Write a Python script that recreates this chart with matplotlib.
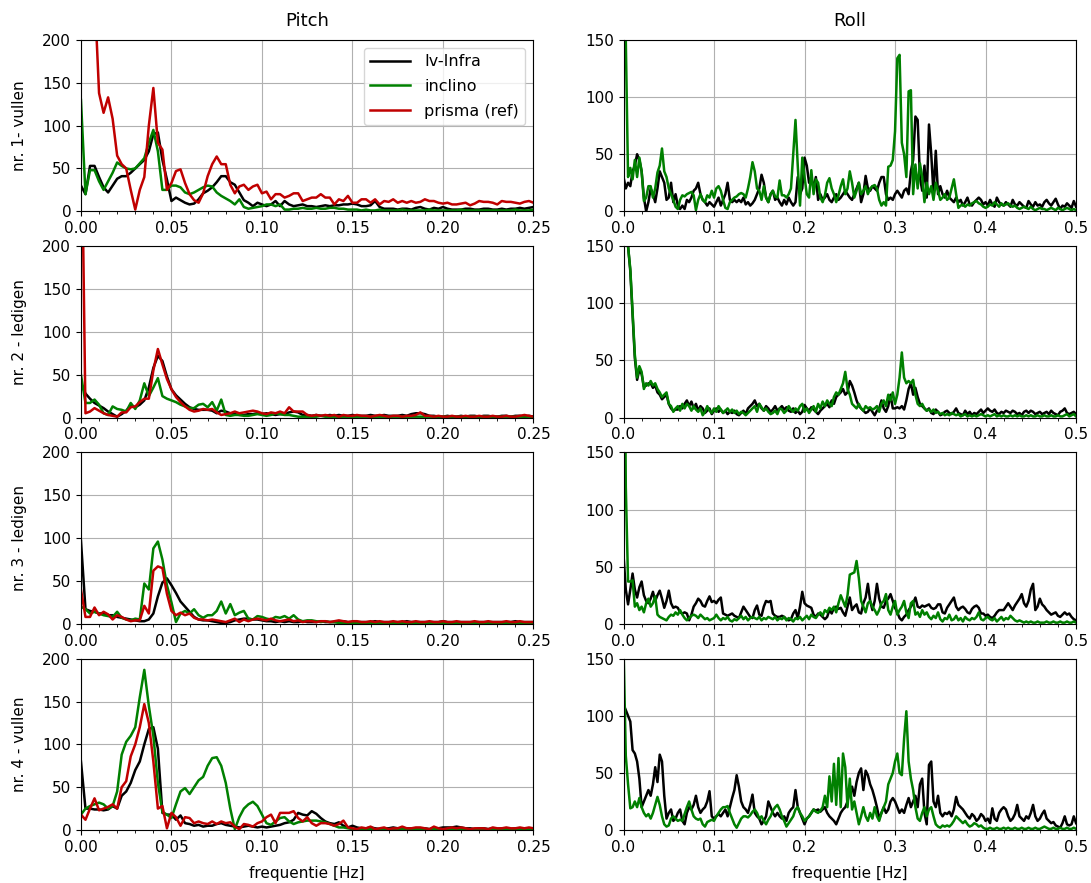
import numpy as np
import matplotlib
matplotlib.use("Agg")
import matplotlib.pyplot as plt
from matplotlib.ticker import AutoMinorLocator

# ---------------- data ----------------
df = 0.0025
freq_pitch = np.arange(101) * df   # 0 .. 0.25 Hz
freq_roll = np.arange(201) * df    # 0 .. 0.50 Hz

series_names = ["Iv-Infra", "inclino", "prisma (ref)"]
row_labels = ["nr. 1- vullen", "nr. 2 - ledigen", "nr. 3 - ledigen", "nr. 4 - vullen"]

# ---- Pitch, row 1 ----
p1_ivinfra = [30, 20, 53, 53, 40, 28, 22, 30, 38, 41,
              41, 45, 50, 55, 60, 70, 90, 92, 60, 37,
              12, 16, 13, 10, 8, 9, 14, 21, 24, 28,
              34, 41, 41, 34, 31, 22, 13, 10, 6, 10,
              8, 6, 8, 12, 6, 12, 8, 6, 7, 8,
              6, 6, 5, 6, 7, 6, 7, 7, 8, 8,
              9, 8, 6, 6, 7, 12, 5, 3, 3, 3,
              2, 3, 3, 2, 4, 5, 3, 2, 4, 3,
              5, 3, 2, 2, 2, 3, 3, 2, 2, 3,
              3, 2, 2, 3, 2, 3, 3, 4, 3, 4, 5]
p1_inclino = [130, 20, 48, 48, 35, 25, 35, 45, 57, 53,
              50, 49, 50, 56, 62, 80, 95, 70, 25, 25,
              30, 30, 28, 22, 20, 22, 25, 28, 30, 29,
              22, 18, 15, 12, 8, 14, 5, 3, 4, 5,
              6, 8, 8, 6, 8, 2, 2, 3, 3, 4,
              3, 3, 4, 3, 3, 4, 4, 3, 3, 2,
              2, 2, 1, 2, 1, 1, 2, 1, 1, 1,
              1, 2, 1, 1, 1, 1, 1, 2, 1, 1,
              1, 1, 1, 1, 2, 1, 1, 1, 1, 1,
              1, 1, 1, 1, 1, 1, 2, 1, 1, 1, 2]
p1_prisma = [600, 500, 400, 257, 138, 115, 133, 108, 65, 55,
             50, 25, 2, 25, 40, 100, 144, 80, 72, 25,
             33, 47, 49, 33, 20, 13, 10, 21, 41, 55,
             64, 55, 55, 31, 21, 29, 31, 25, 29, 31,
             21, 23, 14, 20, 20, 16, 18, 21, 21, 12,
             14, 16, 16, 20, 16, 16, 8, 14, 12, 18,
             10, 10, 14, 14, 10, 14, 8, 12, 11, 14,
             10, 12, 10, 12, 10, 11, 14, 12, 12, 10,
             9, 10, 8, 8, 9, 10, 7, 9, 12, 11,
             11, 10, 8, 12, 11, 11, 10, 9, 11, 12, 10]

# ---- Pitch, row 2 ----
p2_ivinfra = [40, 28, 22, 17, 14, 11, 7, 4, 1, 4,
              8, 14, 12, 15, 20, 35, 58, 72, 66, 48,
              33, 26, 21, 16, 12, 10, 9, 9, 9, 8,
              5, 8, 7, 5, 4, 3, 3, 4, 4, 5,
              4, 5, 4, 3, 4, 4, 6, 7, 6, 3,
              3, 2, 3, 2, 2, 3, 2, 3, 2, 2,
              3, 2, 2, 2, 3, 2, 2, 3, 2, 2,
              2, 3, 2, 4, 5, 5, 4, 2, 2, 1,
              1, 2, 1, 1, 2, 1, 2, 2, 1, 2,
              2, 1, 1, 2, 2, 1, 2, 2, 1, 2, 1]
p2_inclino = [50, 17, 17, 21, 15, 5, 3, 13, 10, 9,
              7, 17, 10, 20, 40, 25, 35, 46, 25, 22,
              20, 18, 15, 13, 11, 11, 15, 16, 12, 18,
              8, 21, 3, 2, 3, 3, 2, 2, 3, 4,
              3, 2, 3, 5, 4, 3, 3, 2, 1, 1,
              1, 1, 1, 2, 1, 1, 1, 1, 1, 1,
              1, 1, 1, 1, 1, 1, 1, 1, 1, 1,
              1, 1, 1, 1, 1, 1, 1, 1, 1, 1,
              1, 1, 1, 1, 1, 1, 1, 1, 1, 1,
              1, 1, 1, 1, 1, 1, 1, 1, 1, 1, 1]
p2_prisma = [400, 5, 7, 11, 8, 5, 3, 2, 1, 6,
             6, 12, 13, 18, 22, 22, 55, 80, 62, 45,
             33, 24, 18, 13, 9, 7, 8, 10, 9, 10,
             6, 3, 4, 5, 7, 5, 6, 7, 8, 7,
             5, 4, 6, 5, 7, 5, 12, 7, 7, 7,
             3, 2, 3, 2, 3, 2, 3, 1, 3, 2,
             2, 3, 2, 2, 1, 2, 3, 2, 1, 2,
             2, 1, 2, 2, 3, 6, 2, 2, 1, 2,
             1, 1, 2, 1, 1, 2, 1, 1, 2, 1,
             1, 2, 1, 1, 2, 1, 1, 2, 3, 2, 1]

# ---- Pitch, row 3 ----
p3_ivinfra = [97, 17, 15, 14, 12, 12, 10, 10, 8, 7,
              6, 5, 4, 3, 3, 5, 12, 32, 48, 53,
              45, 36, 26, 20, 14, 8, 5, 4, 4, 3,
              2, 1, 1, 2, 4, 5, 6, 6, 5, 5,
              4, 3, 3, 2, 3, 2, 3, 2, 2, 3,
              2, 2, 2, 3, 2, 2, 2, 2, 3, 2,
              2, 2, 2, 2, 2, 3, 2, 2, 2, 2,
              2, 2, 3, 2, 2, 2, 2, 2, 2, 2,
              3, 2, 2, 2, 2, 2, 2, 2, 2, 2,
              2, 2, 2, 2, 2, 2, 3, 2, 2, 2, 2]
p3_inclino = [20, 17, 12, 14, 12, 10, 9, 8, 14, 7,
              5, 4, 6, 5, 47, 40, 88, 96, 75, 45,
              25, 2, 12, 15, 12, 17, 10, 7, 10, 10,
              15, 26, 12, 23, 10, 13, 15, 6, 5, 9,
              8, 6, 5, 8, 7, 9, 6, 10, 5, 3,
              4, 4, 3, 2, 3, 2, 2, 1, 1, 1,
              1, 1, 1, 1, 1, 1, 1, 1, 1, 1,
              1, 1, 1, 1, 1, 1, 1, 1, 1, 1,
              1, 1, 1, 1, 1, 1, 1, 1, 1, 1,
              1, 1, 1, 1, 1, 1, 1, 1, 1, 1, 1]
p3_prisma = [40, 8, 8, 19, 10, 14, 11, 5, 10, 8,
             5, 3, 4, 4, 21, 12, 62, 67, 65, 35,
             15, 10, 13, 10, 12, 7, 5, 5, 4, 5,
             4, 3, 2, 4, 6, 2, 5, 3, 5, 6,
             5, 4, 6, 4, 3, 4, 5, 3, 4, 2,
             3, 3, 2, 3, 3, 2, 3, 4, 3, 2,
             3, 3, 2, 2, 3, 2, 3, 2, 2, 3,
             2, 3, 2, 2, 3, 2, 2, 3, 2, 2,
             3, 2, 2, 3, 2, 2, 2, 3, 2, 2,
             3, 2, 2, 2, 3, 2, 2, 3, 2, 2, 2]

# ---- Pitch, row 4 ----
p4_ivinfra = [80, 25, 25, 24, 24, 23, 24, 28, 25, 40,
              45, 55, 70, 80, 100, 118, 120, 95, 20, 18,
              18, 12, 17, 8, 7, 5, 6, 4, 5, 5,
              7, 8, 6, 5, 4, 3, 4, 5, 4, 3,
              4, 3, 4, 5, 6, 8, 9, 12, 20, 18,
              17, 22, 19, 14, 10, 8, 7, 9, 5, 3,
              5, 3, 2, 2, 3, 2, 1, 2, 2, 3,
              2, 1, 2, 2, 1, 2, 2, 1, 2, 2,
              3, 3, 3, 4, 3, 2, 2, 1, 2, 2,
              1, 2, 1, 2, 2, 1, 2, 1, 1, 2, 1]
p4_inclino = [18, 25, 28, 30, 32, 30, 25, 28, 45, 88,
              103, 110, 120, 155, 187, 145, 110, 55, 21, 18,
              14, 30, 45, 49, 42, 50, 58, 62, 75, 84,
              85, 75, 55, 25, 1, 15, 25, 30, 33, 28,
              18, 8, 6, 10, 14, 15, 10, 7, 9, 10,
              11, 11, 11, 10, 9, 7, 5, 3, 3, 2,
              1, 1, 1, 1, 1, 1, 1, 1, 1, 1,
              1, 1, 1, 1, 1, 1, 1, 1, 1, 1,
              1, 1, 1, 1, 1, 1, 1, 1, 1, 1,
              1, 1, 1, 1, 1, 1, 1, 1, 1, 1, 1]
p4_prisma = [18, 12, 25, 37, 23, 25, 27, 30, 25, 50,
             57, 86, 100, 120, 147, 125, 80, 25, 28, 2,
             20, 15, 5, 15, 14, 8, 10, 8, 7, 10,
             7, 10, 8, 9, 4, 1, 7, 6, 4, 8,
             10, 15, 18, 8, 20, 20, 20, 22, 14, 10,
             15, 8, 5, 8, 8, 7, 5, 7, 11, 3,
             2, 1, 3, 2, 4, 1, 2, 3, 1, 2,
             2, 4, 2, 2, 3, 3, 2, 1, 4, 2,
             1, 2, 3, 2, 3, 2, 1, 2, 2, 2,
             1, 3, 2, 2, 3, 2, 2, 3, 2, 3, 2]

# ---- Roll, row 1 ----
r1_ivinfra = [30, 20, 25, 22, 35, 40, 50, 45, 35, 12,
              0, 8, 20, 15, 8, 20, 35, 30, 25, 10,
              12, 25, 8, 15, 5, 2, 5, 2, 10, 8,
              12, 18, 20, 25, 15, 10, 8, 5, 8, 6,
              4, 8, 12, 5, 10, 15, 25, 10, 8, 10,
              8, 10, 8, 12, 6, 8, 5, 7, 10, 15,
              20, 32, 25, 12, 8, 15, 18, 10, 12, 8,
              5, 10, 6, 12, 8, 5, 8, 30, 15, 20,
              47, 40, 25, 30, 20, 30, 10, 15, 10, 12,
              15, 10, 8, 12, 15, 10, 12, 15, 18, 15,
              12, 10, 15, 20, 25, 8, 15, 31, 20, 18,
              22, 20, 18, 25, 30, 30, 15, 10, 12, 10,
              15, 18, 15, 12, 18, 20, 15, 35, 45, 83,
              80, 30, 18, 40, 12, 76, 50, 15, 53, 15,
              22, 15, 12, 18, 12, 10, 8, 12, 8, 10,
              5, 8, 12, 6, 5, 8, 10, 12, 10, 6,
              8, 5, 10, 6, 4, 12, 8, 6, 5, 8,
              6, 4, 10, 6, 5, 8, 6, 4, 3, 9,
              6, 4, 8, 5, 6, 4, 8, 10, 7, 5,
              8, 11, 6, 2, 5, 4, 7, 5, 3, 9, 4]
r1_inclino = [400, 150, 30, 38, 28, 45, 30, 47, 35, 9,
              12, 22, 22, 12, 20, 34, 40, 55, 35, 30,
              20, 15, 10, 4, 2, 10, 14, 13, 15, 16,
              17, 14, 1, 10, 15, 10, 8, 14, 12, 18,
              12, 20, 22, 18, 10, 3, 2, 8, 10, 12,
              13, 15, 16, 15, 12, 20, 30, 43, 35, 20,
              18, 10, 22, 12, 8, 15, 18, 13, 12, 27,
              14, 14, 12, 15, 20, 50, 80, 40, 5, 47,
              30, 15, 12, 36, 15, 28, 25, 12, 8, 14,
              25, 29, 20, 15, 8, 14, 22, 28, 15, 20,
              35, 25, 12, 18, 25, 15, 18, 22, 15, 20,
              22, 23, 20, 10, 5, 8, 5, 39, 40, 45,
              70, 134, 137, 60, 50, 30, 105, 106, 15, 41,
              20, 42, 30, 8, 25, 15, 22, 10, 25, 18,
              10, 12, 15, 10, 12, 20, 28, 15, 3, 5,
              6, 4, 6, 5, 7, 8, 9, 7, 6, 4,
              3, 4, 6, 5, 8, 6, 4, 7, 5, 6,
              7, 5, 4, 5, 3, 2, 3, 4, 3, 2,
              4, 2, 1, 2, 3, 2, 2, 1, 2, 3,
              2, 1, 3, 2, 1, 2, 3, 2, 1, 2, 1]

# ---- Roll, row 2 ----
r2_ivinfra = [300, 200, 150, 128, 90, 52, 33, 42, 38, 27,
              28, 30, 30, 26, 28, 22, 20, 16, 18, 20,
              12, 8, 6, 7, 7, 10, 8, 12, 15, 10,
              14, 8, 12, 6, 10, 8, 4, 6, 8, 3,
              6, 8, 5, 7, 4, 6, 3, 5, 4, 6,
              3, 2, 4, 6, 3, 8, 10, 12, 15, 10,
              12, 8, 6, 10, 8, 5, 7, 10, 6, 8,
              10, 7, 9, 6, 5, 8, 4, 6, 3, 5,
              11, 8, 6, 9, 7, 5, 3, 6, 8, 10,
              12, 9, 15, 12, 18, 20, 22, 25, 20, 22,
              32, 28, 22, 15, 10, 8, 6, 4, 5, 8,
              5, 2, 6, 8, 15, 8, 5, 10, 20, 8,
              8, 9, 8, 10, 7, 15, 25, 30, 20, 26,
              18, 12, 10, 8, 6, 8, 4, 3, 7, 5,
              2, 3, 5, 6, 4, 3, 5, 8, 4, 3,
              2, 6, 3, 5, 2, 4, 3, 5, 7, 4,
              6, 8, 6, 5, 7, 4, 3, 5, 4, 6,
              5, 4, 6, 5, 3, 4, 2, 5, 6, 4,
              6, 5, 3, 4, 5, 3, 4, 5, 3, 6,
              4, 3, 2, 5, 6, 8, 4, 3, 4, 5, 3]
r2_inclino = [300, 200, 150, 130, 93, 55, 35, 45, 40, 25,
              30, 28, 32, 28, 30, 25, 22, 18, 20, 22,
              12, 10, 5, 8, 10, 6, 12, 8, 12, 10,
              6, 10, 7, 5, 8, 2, 5, 10, 6, 4,
              8, 5, 10, 7, 4, 6, 8, 5, 7, 4,
              6, 3, 5, 4, 2, 4, 6, 8, 10, 5,
              12, 9, 6, 8, 5, 3, 4, 6, 3, 8,
              7, 4, 6, 10, 7, 5, 8, 6, 10, 12,
              5, 8, 4, 7, 10, 5, 12, 8, 14, 10,
              15, 12, 10, 18, 22, 20, 25, 30, 40, 25,
              20, 12, 10, 8, 12, 8, 6, 10, 8, 9,
              7, 8, 10, 5, 12, 15, 10, 20, 15, 22,
              12, 20, 35, 57, 35, 30, 32, 30, 33, 20,
              12, 10, 12, 8, 6, 7, 5, 7, 4, 5,
              3, 4, 2, 3, 2, 4, 3, 2, 3, 1,
              2, 3, 1, 2, 1, 2, 1, 2, 3, 2,
              1, 2, 1, 2, 3, 1, 2, 1, 2, 1,
              1, 2, 1, 2, 1, 2, 1, 1, 2, 1,
              2, 1, 1, 2, 1, 1, 2, 1, 1, 2,
              1, 1, 2, 1, 1, 2, 3, 1, 2, 3, 1]

# ---- Roll, row 3 ----
r3_ivinfra = [60, 30, 17, 30, 44, 30, 23, 32, 37, 25,
              20, 18, 22, 28, 20, 25, 29, 22, 14, 20,
              29, 18, 14, 15, 14, 10, 9, 10, 9, 3,
              8, 15, 18, 22, 20, 16, 15, 20, 24, 19,
              20, 18, 21, 23, 9, 8, 7, 8, 9, 7,
              6, 5, 10, 15, 12, 9, 6, 5, 12, 16,
              8, 7, 15, 20, 19, 20, 9, 7, 6, 6,
              7, 6, 4, 3, 4, 9, 12, 5, 15, 28,
              18, 16, 15, 14, 8, 6, 9, 8, 6, 4,
              6, 12, 9, 14, 15, 13, 14, 10, 7, 15,
              23, 12, 15, 17, 10, 9, 18, 23, 35, 20,
              12, 20, 35, 22, 15, 14, 20, 22, 26, 20,
              14, 10, 5, 3, 6, 8, 12, 15, 18, 23,
              15, 14, 16, 15, 16, 17, 14, 13, 14, 17,
              17, 10, 9, 14, 17, 20, 23, 15, 12, 14,
              15, 13, 10, 9, 13, 15, 16, 14, 9, 9,
              7, 8, 6, 5, 7, 10, 12, 12, 12, 15,
              18, 15, 12, 16, 19, 22, 26, 18, 15, 20,
              30, 35, 12, 15, 22, 17, 15, 12, 10, 8,
              9, 10, 7, 6, 8, 10, 8, 9, 6, 4, 3]
r3_inclino = [400, 120, 37, 37, 38, 15, 18, 12, 15, 10,
              18, 22, 15, 18, 24, 8, 6, 5, 4, 3,
              6, 8, 7, 10, 8, 12, 8, 5, 3, 5,
              7, 8, 7, 5, 8, 6, 4, 5, 3, 4,
              5, 8, 5, 3, 5, 4, 6, 3, 2, 4,
              3, 5, 7, 4, 6, 3, 5, 6, 5, 4,
              6, 3, 5, 4, 6, 5, 4, 6, 3, 5,
              4, 6, 3, 5, 4, 2, 5, 4, 6, 3,
              5, 7, 4, 8, 6, 5, 8, 10, 7, 12,
              10, 14, 12, 15, 10, 18, 25, 20, 15, 25,
              43, 44, 45, 55, 40, 20, 15, 10, 18, 20,
              15, 12, 8, 12, 18, 20, 26, 12, 8, 15,
              20, 8, 12, 15, 20, 10, 5, 18, 20, 8,
              10, 6, 12, 8, 10, 6, 4, 7, 5, 10,
              4, 2, 5, 4, 8, 3, 4, 7, 3, 5,
              2, 6, 4, 3, 5, 4, 6, 10, 4, 3,
              5, 6, 4, 3, 5, 2, 4, 6, 3, 5,
              4, 7, 5, 3, 2, 3, 2, 1, 2, 1,
              2, 1, 1, 2, 1, 1, 1, 2, 1, 1,
              2, 1, 1, 2, 1, 1, 2, 1, 1, 2, 1]

# ---- Roll, row 4 ----
r4_ivinfra = [110, 105, 100, 95, 70, 67, 60, 45, 20, 25,
              30, 35, 30, 40, 55, 42, 66, 60, 30, 10,
              15, 18, 8, 10, 15, 18, 8, 5, 15, 20,
              18, 22, 30, 20, 15, 18, 20, 25, 34, 12,
              10, 12, 14, 12, 15, 18, 12, 20, 28, 35,
              48, 38, 25, 20, 18, 15, 22, 31, 15, 12,
              10, 5, 8, 12, 25, 20, 15, 12, 15, 12,
              10, 12, 8, 15, 18, 20, 35, 20, 15, 10,
              5, 10, 12, 15, 18, 17, 18, 16, 18, 20,
              15, 12, 10, 8, 5, 10, 15, 18, 20, 25,
              35, 38, 30, 42, 50, 54, 35, 52, 48, 40,
              35, 28, 20, 10, 15, 20, 15, 18, 25, 28,
              25, 20, 15, 18, 15, 22, 28, 20, 25, 30,
              20, 40, 45, 15, 5, 57, 60, 25, 20, 30,
              15, 12, 15, 14, 16, 12, 18, 29, 22, 20,
              18, 15, 12, 10, 14, 12, 8, 10, 14, 12,
              8, 10, 6, 19, 10, 8, 15, 18, 20, 18,
              12, 8, 10, 14, 22, 12, 10, 8, 12, 10,
              15, 22, 12, 8, 10, 14, 17, 10, 8, 6,
              7, 4, 3, 2, 6, 12, 5, 4, 5, 12, 6]
r4_inclino = [160, 65, 40, 19, 20, 25, 20, 28, 20, 15,
              12, 14, 10, 15, 22, 29, 22, 12, 5, 3,
              4, 10, 12, 10, 8, 9, 8, 14, 20, 25,
              18, 12, 10, 9, 10, 5, 3, 7, 8, 9,
              8, 12, 15, 18, 20, 20, 21, 15, 10, 5,
              2, 6, 10, 12, 12, 11, 13, 16, 18, 15,
              10, 12, 8, 5, 9, 12, 17, 20, 22, 18,
              12, 8, 3, 6, 9, 12, 18, 20, 15, 12,
              8, 10, 12, 15, 18, 16, 15, 17, 20, 30,
              20, 47, 25, 58, 22, 63, 20, 67, 55, 20,
              45, 18, 25, 15, 5, 12, 20, 12, 8, 15,
              10, 20, 12, 8, 15, 20, 25, 40, 45, 50,
              60, 67, 50, 48, 80, 104, 60, 45, 35, 20,
              10, 8, 15, 20, 12, 18, 20, 12, 5, 3,
              2, 4, 3, 4, 3, 5, 8, 12, 10, 8,
              6, 8, 5, 3, 4, 6, 5, 3, 4, 2,
              1, 1, 2, 1, 1, 2, 1, 1, 2, 1,
              2, 1, 1, 2, 1, 1, 2, 1, 1, 2,
              1, 1, 2, 1, 1, 2, 3, 2, 1, 1,
              2, 1, 1, 2, 1, 1, 2, 1, 1, 2, 1]

pitch_rows = [(p1_ivinfra, p1_inclino, p1_prisma),
              (p2_ivinfra, p2_inclino, p2_prisma),
              (p3_ivinfra, p3_inclino, p3_prisma),
              (p4_ivinfra, p4_inclino, p4_prisma)]
roll_rows = [(r1_ivinfra, r1_inclino),
             (r2_ivinfra, r2_inclino),
             (r3_ivinfra, r3_inclino),
             (r4_ivinfra, r4_inclino)]

colors = ["black", "green", "#c00000"]
lw = 1.8

# ---------------- figure ----------------
fig, axes = plt.subplots(4, 2, figsize=(10.91, 8.83), dpi=100)
fig.subplots_adjust(left=0.0742, right=0.9863, bottom=0.06, top=0.9547,
                    wspace=0.199, hspace=0.204)

for r in range(4):
    axp = axes[r, 0]
    for vals, c, name in zip(pitch_rows[r], colors, series_names):
        axp.plot(freq_pitch, vals, color=c, lw=lw, label=name)
    axp.set_xlim(0, 0.25)
    axp.set_ylim(0, 200)
    axp.set_yticks([0, 50, 100, 150, 200])
    axp.set_ylabel(row_labels[r], fontsize=11, labelpad=11)

    axr = axes[r, 1]
    for vals, c in zip(roll_rows[r], colors[:2]):
        axr.plot(freq_roll, vals, color=c, lw=lw)
    axr.set_xlim(0, 0.5)
    axr.set_ylim(0, 150)
    axr.set_yticks([0, 50, 100, 150])

    for ax in (axp, axr):
        ax.grid(True, color="#b0b0b0", lw=0.8)
        ax.xaxis.set_minor_locator(AutoMinorLocator(5))
        ax.tick_params(labelsize=11)
        ax.set_axisbelow(True)

axes[0, 0].set_title("Pitch", fontsize=13, pad=10)
axes[0, 1].set_title("Roll", fontsize=13, pad=10)
axes[3, 0].set_xlabel("frequentie [Hz]", fontsize=11, labelpad=8)
axes[3, 1].set_xlabel("frequentie [Hz]", fontsize=11, labelpad=8)
axes[0, 0].legend(loc="upper right", fontsize=11.5, handlelength=2.5,
                  labelspacing=0.6, handletextpad=0.9)

fig.savefig("out.png", dpi=100)
